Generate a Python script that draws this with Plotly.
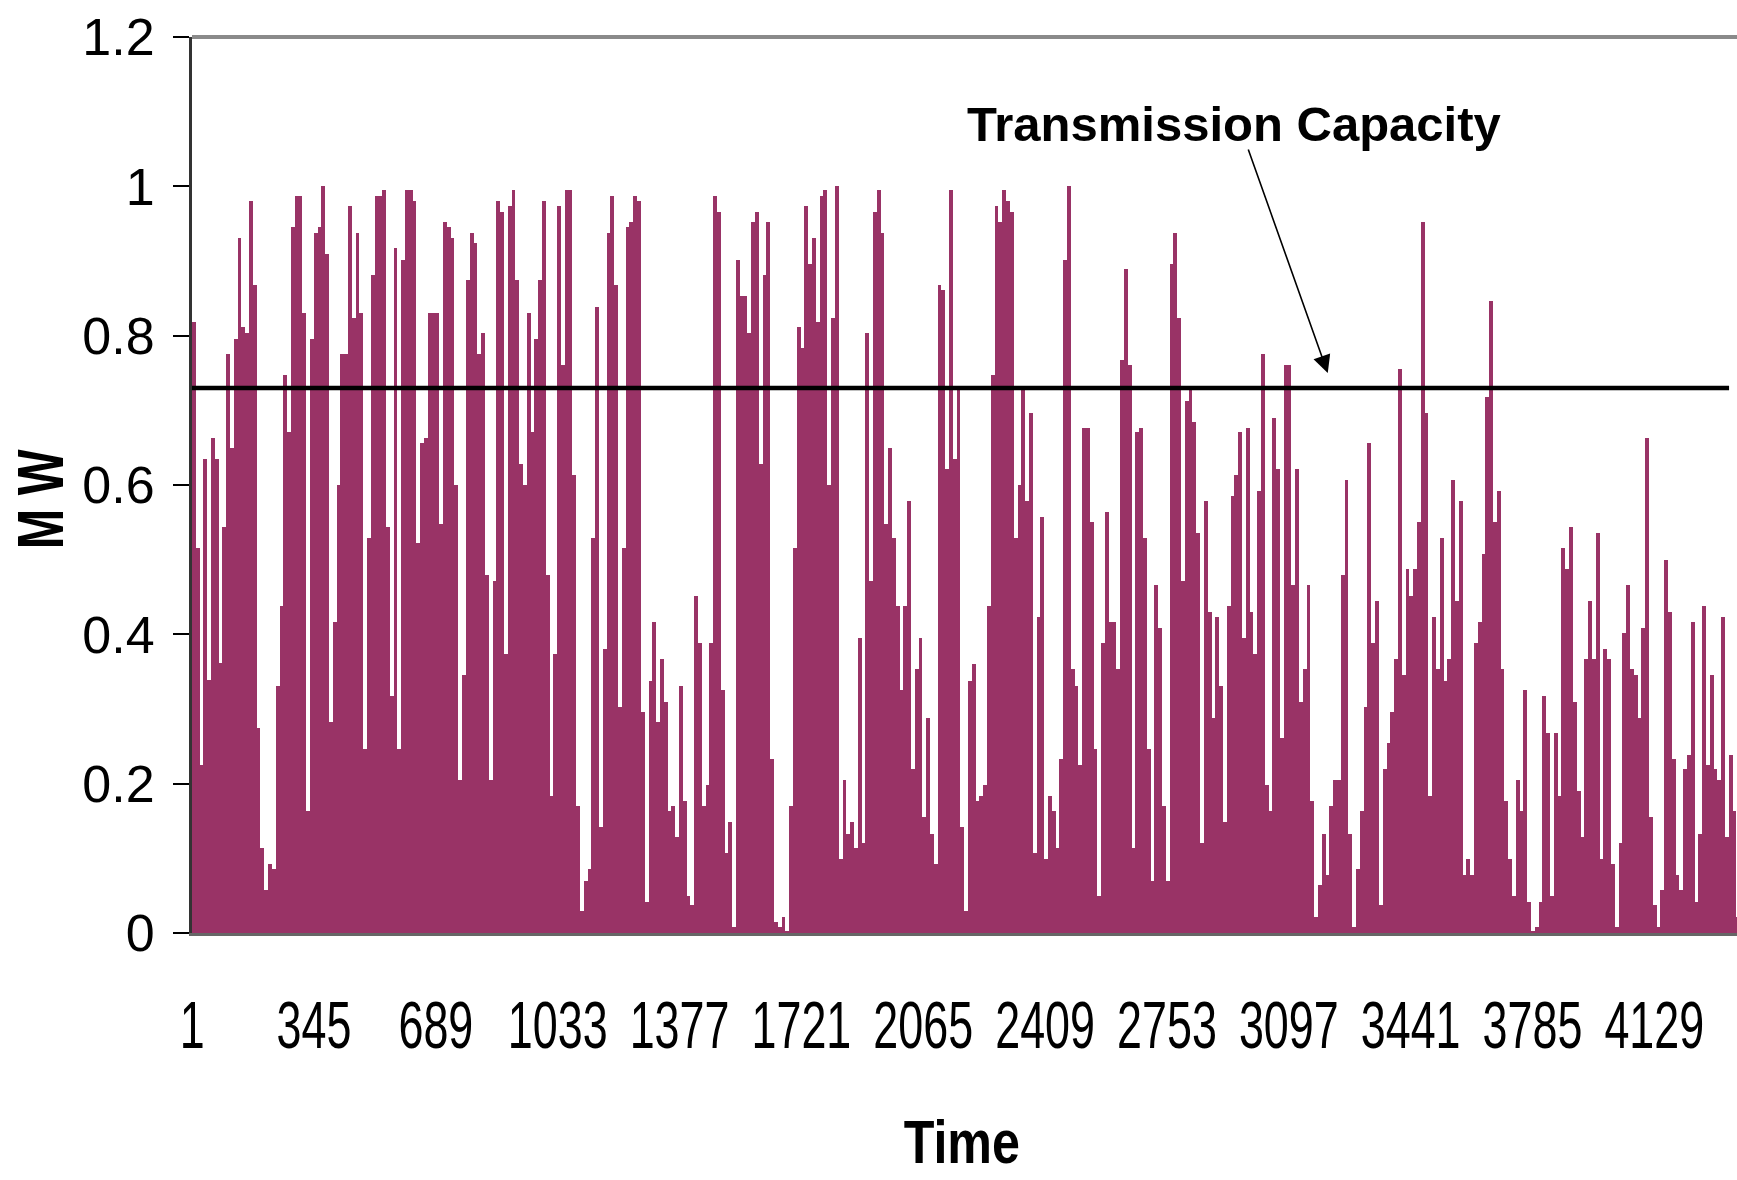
import plotly.graph_objects as go

# Generated power (MW) per time block, in chronological order
mw_block_1 = [0.818, 0.515, 0.225, 0.635, 0.339, 0.663, 0.635, 0.361, 0.544, 0.775,
              0.650, 0.796, 0.931, 0.811, 0.803, 0.980, 0.868, 0.275, 0.114, 0.058,
              0.092, 0.086, 0.331, 0.438, 0.747, 0.671, 0.946, 0.987, 0.987, 0.831,
              0.163, 0.796, 0.937, 0.946, 1.000, 0.909, 0.282, 0.416, 0.600, 0.775]
mw_block_2 = [0.775, 0.974, 0.824, 0.937, 0.831, 0.247, 0.529, 0.881, 0.987, 0.987,
              0.995, 0.544, 0.317, 0.917, 0.247, 0.902, 0.995, 0.995, 0.980, 0.522,
              0.656, 0.663, 0.831, 0.831, 0.831, 0.548, 0.952, 0.946, 0.931, 0.600,
              0.205, 0.346, 0.874, 0.937, 0.924, 0.775, 0.803, 0.479, 0.205, 0.472,
              0.980]
mw_block_3 = [0.966, 0.374, 0.974, 0.995, 0.874, 0.628, 0.600, 0.831, 0.671, 0.796,
              0.874, 0.980, 0.479, 0.184, 0.374, 0.974, 0.761, 0.995, 0.995, 0.613,
              0.170, 0.030, 0.070, 0.086, 0.529, 0.839, 0.142, 0.381, 0.937, 0.987,
              0.868, 0.303, 0.515, 0.946, 0.952, 0.987, 0.980, 0.296, 0.042, 0.338,
              0.416]
mw_block_4 = [0.282, 0.367, 0.310, 0.163, 0.170, 0.128, 0.331, 0.177, 0.049, 0.037,
              0.451, 0.388, 0.170, 0.198, 0.388, 0.987, 0.966, 0.325, 0.107, 0.148,
              0.008, 0.902, 0.853, 0.853, 0.803, 0.952, 0.966, 0.628, 0.881, 0.952,
              0.233, 0.015, 0.008, 0.021, 0.002, 0.170, 0.515, 0.811, 0.783, 0.974,
              0.896]
mw_block_5 = [0.931, 0.818, 0.987, 0.995, 0.600, 0.824, 1.000, 0.099, 0.205, 0.133,
              0.148, 0.114, 0.395, 0.120, 0.803, 0.472, 0.966, 0.995, 0.937, 0.548,
              0.649, 0.529, 0.438, 0.325, 0.438, 0.578, 0.219, 0.353, 0.395, 0.155,
              0.288, 0.133, 0.092, 0.868, 0.861, 0.621, 0.995, 0.635, 0.727, 0.142,
              0.030]
mw_block_6 = [0.338, 0.360, 0.177, 0.184, 0.198, 0.438, 0.747, 0.974, 0.952, 0.995,
              0.980, 0.966, 0.529, 0.600, 0.727, 0.578, 0.697, 0.107, 0.423, 0.557,
              0.099, 0.184, 0.163, 0.114, 0.233, 0.902, 1.000, 0.353, 0.331, 0.225,
              0.677, 0.677, 0.550, 0.247, 0.049, 0.388, 0.564, 0.416, 0.416, 0.353]
mw_block_7 = [0.768, 0.889, 0.761, 0.114, 0.671, 0.677, 0.529, 0.247, 0.070, 0.466,
              0.409, 0.170, 0.070, 0.896, 0.937, 0.824, 0.472, 0.712, 0.727, 0.684,
              0.536, 0.120, 0.578, 0.430, 0.288, 0.423, 0.331, 0.148, 0.438, 0.585,
              0.613, 0.671, 0.395, 0.677, 0.430, 0.374, 0.592, 0.775, 0.198, 0.163,
              0.690]
mw_block_8 = [0.621, 0.261, 0.761, 0.761, 0.466, 0.621, 0.310, 0.353, 0.466, 0.177,
              0.021, 0.064, 0.133, 0.078, 0.170, 0.205, 0.205, 0.479, 0.607, 0.133,
              0.008, 0.086, 0.163, 0.303, 0.656, 0.388, 0.444, 0.037, 0.219, 0.254,
              0.296, 0.367, 0.755, 0.346, 0.487, 0.451, 0.487, 0.550, 0.952, 0.697,
              0.184]
mw_block_9 = [0.423, 0.353, 0.529, 0.338, 0.367, 0.607, 0.444, 0.578, 0.078, 0.099,
              0.078, 0.388, 0.416, 0.507, 0.718, 0.846, 0.550, 0.592, 0.353, 0.177,
              0.099, 0.049, 0.205, 0.163, 0.325, 0.042, 0.002, 0.008, 0.042, 0.317,
              0.268, 0.049, 0.268, 0.184, 0.515, 0.487, 0.544, 0.310, 0.190, 0.128,
              0.367]
mw_block_10 = [0.444, 0.367, 0.536, 0.099, 0.381, 0.367, 0.092, 0.008, 0.120, 0.402,
               0.466, 0.353, 0.346, 0.288, 0.409, 0.663, 0.155, 0.037, 0.008, 0.058,
               0.500, 0.430, 0.233, 0.078, 0.058, 0.219, 0.239, 0.416, 0.042, 0.133,
               0.438, 0.225, 0.346, 0.219, 0.205, 0.423, 0.128, 0.239, 0.163, 0.021]

# Transmission capacity limit (MW)
capacity_mw = 0.73

# Time-axis tick labels (hour index)
time_ticks = [1, 345, 689, 1033, 1377, 1721, 2065, 2409, 2753, 3097, 3441, 3785, 4129]
mw_ticks = [0, 0.2, 0.4, 0.6, 0.8, 1.0, 1.2]
mw_tick_text = ["0", "0.2", "0.4", "0.6", "0.8", "1", "1.2"]

power = (mw_block_1 + mw_block_2 + mw_block_3 + mw_block_4 + mw_block_5 +
         mw_block_6 + mw_block_7 + mw_block_8 + mw_block_9 + mw_block_10)

hours_per_block = 10.74
t_start = 0.5
t_end = 4362.4
t_centers = [t_start + (i + 0.5) * hours_per_block for i in range(len(power))]

BAR = "#993366"
FONT = "Liberation Sans, Arial, sans-serif"

fig = go.Figure()
fig.add_trace(go.Bar(
    x=t_centers, y=power, width=hours_per_block,
    marker=dict(color=BAR, line=dict(width=0)),
    hoverinfo="skip", showlegend=False,
))

# capacity line
fig.add_shape(type="line", xref="x", yref="y", x0=t_start, x1=4340,
              y0=capacity_mw, y1=capacity_mw, line=dict(color="black", width=4.5), layer="above")
# plot-area top border
fig.add_shape(type="line", xref="paper", yref="paper", x0=0, x1=1, y0=1, y1=1,
              line=dict(color="#8a8a8a", width=4))

fig.add_annotation(text="<b>Transmission Capacity</b>", xref="paper", yref="paper",
                   x=(1234 - 192) / 1545, y=(933 - 124) / 896,
                   xanchor="center", yanchor="middle", showarrow=False,
                   font=dict(family=FONT, size=49, color="black"))
fig.add_annotation(text="", x=3207, y=0.75, xref="x", yref="y",
                   ax=-80, ay=-225, axref="pixel", ayref="pixel",
                   showarrow=True, arrowhead=2, arrowsize=2.2, arrowwidth=1.6,
                   arrowcolor="black")
fig.add_annotation(text="<b>M W</b>", xref="paper", yref="paper",
                   x=(41 - 192) / 1545, y=(933 - 499) / 896,
                   xanchor="center", yanchor="middle", showarrow=False,
                   textangle=-90, font=dict(family=FONT, size=64, color="black"))
fig.add_annotation(text="<b>Time</b>", xref="paper", yref="paper",
                   x=(962 - 192) / 1545, y=(933 - 1141) / 896,
                   xanchor="center", yanchor="middle", showarrow=False,
                   font=dict(family=FONT, size=62, color="black"))

fig.update_layout(
    width=1737, height=1180,
    margin=dict(l=192, r=0, t=37, b=247),
    paper_bgcolor="white", plot_bgcolor="white",
    bargap=0,
    xaxis=dict(range=[t_start, t_end], tickmode="array", tickvals=time_ticks,
               ticktext=[str(t) for t in time_ticks], tickangle=0,
               showgrid=False, zeroline=False, ticks="",
               showline=True, linecolor="#666666", linewidth=3,
               ticklabelstandoff=33,
               tickfont=dict(family=FONT, size=66, color="black")),
    yaxis=dict(range=[0, 1.2], tickmode="array", tickvals=mw_ticks, ticktext=mw_tick_text,
               showgrid=False, zeroline=False, ticks="outside", ticklen=16,
               tickwidth=1.5, tickcolor="black",
               showline=True, linecolor="#333333", linewidth=3,
               ticklabelstandoff=8,
               tickfont=dict(family=FONT, size=52, color="black")),
)

# Narrow the time labels and axis titles horizontally (condensed lettering)
post_js = """
var gd = document.getElementById('{plot_id}');
function squeezeText(el, sx) {
  var tr = el.getAttribute('transform') || '';
  if (tr.indexOf('scale(') >= 0) return;
  var bb = el.getBBox();
  var cx = bb.x + bb.width / 2;
  el.setAttribute('transform', tr + ' translate(' + cx + ' 0) scale(' + sx + ' 1) translate(' + (-cx) + ' 0)');
}
function condense() {
  gd.querySelectorAll('.xtick text').forEach(function (t) { squeezeText(t, 0.68); });
  gd.querySelectorAll('.annotation-text').forEach(function (t) {
    var s = t.textContent;
    if (s === 'Time') squeezeText(t, 0.81);
    else if (s === 'M W') squeezeText(t, 0.76);
  });
}
condense();
setTimeout(condense, 0);
gd.on('plotly_afterplot', condense);
"""

fig.write_html("out.html", post_script=post_js)
